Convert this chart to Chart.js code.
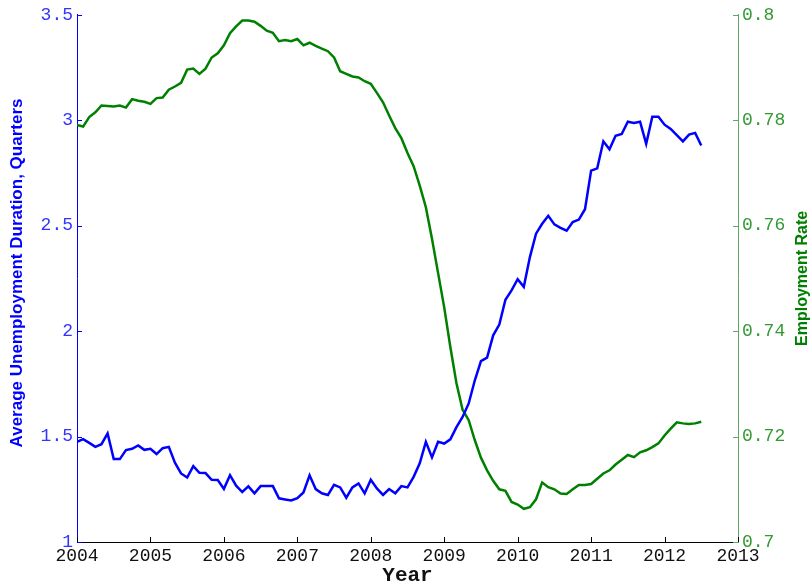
<!DOCTYPE html>
<html>
<head>
<meta charset="utf-8">
<script src="https://cdn.jsdelivr.net/npm/chart.js@4.4.1/dist/chart.umd.min.js"></script>
<style>
  html, body { margin: 0; padding: 0; background: #ffffff; }
  #wrap { width: 812px; height: 585px; }
</style>
</head>
<body>
<div id="wrap"><canvas id="c" width="812" height="585"></canvas></div>
<script>
// ---- Data (monthly, Jan 2004 .. Jul 2012) ----
const startYear = 2004;
const yearTicks = [2004, 2005, 2006, 2007, 2008, 2009, 2010, 2011, 2012, 2013];
const leftTicks = [1, 1.5, 2, 2.5, 3, 3.5];
const rightTicks = [0.7, 0.72, 0.74, 0.76, 0.78, 0.8];

const unemploymentDuration = [
  1.475, 1.488, 1.470, 1.451, 1.464, 1.515, 1.393, 1.393, 1.436, 1.442, 1.458, 1.437,
  1.442, 1.417, 1.445, 1.451, 1.376, 1.325, 1.306, 1.360, 1.328, 1.327, 1.295, 1.294,
  1.252, 1.317, 1.267, 1.237, 1.264, 1.231, 1.265, 1.265, 1.265, 1.207, 1.202, 1.197,
  1.208, 1.235, 1.316, 1.251, 1.231, 1.223, 1.271, 1.259, 1.210, 1.259, 1.278, 1.231,
  1.295, 1.254, 1.223, 1.251, 1.231, 1.265, 1.259, 1.309, 1.373, 1.475, 1.401, 1.475,
  1.467, 1.487, 1.545, 1.593, 1.657, 1.767, 1.858, 1.874, 1.980, 2.031, 2.149, 2.193,
  2.246, 2.210, 2.351, 2.462, 2.509, 2.547, 2.506, 2.490, 2.476, 2.517, 2.529, 2.578,
  2.761, 2.772, 2.900, 2.862, 2.926, 2.935, 2.993, 2.987, 2.993, 2.888, 3.017, 3.017,
  2.979, 2.959, 2.929, 2.900, 2.932, 2.940, 2.880
];

const employmentRate = [
  0.7791, 0.7788, 0.7806, 0.7815, 0.7828, 0.7827, 0.7826, 0.7828, 0.7824, 0.7840, 0.7837, 0.7835,
  0.7831, 0.7842, 0.7843, 0.7858, 0.7864, 0.7871, 0.7896, 0.7898, 0.7888, 0.7898, 0.7919, 0.7927,
  0.7942, 0.7965, 0.7978, 0.7989, 0.7989, 0.7987, 0.7979, 0.7970, 0.7966, 0.7950, 0.7952, 0.7950,
  0.7954, 0.7942, 0.7947, 0.7941, 0.7936, 0.7931, 0.7919, 0.7893, 0.7888, 0.7883, 0.7881, 0.7874,
  0.7869, 0.7852, 0.7834, 0.7809, 0.7785, 0.7766, 0.7738, 0.7713, 0.7676, 0.7635, 0.7575, 0.7510,
  0.7445, 0.7370, 0.7301, 0.7251, 0.7231, 0.7193, 0.7160, 0.7136, 0.7116, 0.7100, 0.7097, 0.7076,
  0.7071, 0.7063, 0.7066, 0.7081, 0.7113, 0.7104, 0.7100, 0.7092, 0.7091, 0.7100, 0.7108, 0.7108,
  0.7110, 0.7120, 0.7130, 0.7136, 0.7147, 0.7156, 0.7165, 0.7161, 0.7170, 0.7174, 0.7180, 0.7187,
  0.7202, 0.7215, 0.7227, 0.7225, 0.7224, 0.7225, 0.7228
];

const leftTitle = 'Average Unemployment Duration, Quarters';
const rightTitle = 'Employment Rate';
const xTitle = 'Year';

// ---- Styles ----
const BLUE = '#0000ff';
const GREEN = '#008000';
const BLUE_LABEL = '#3333ff';
const GREEN_LABEL = '#339933';
const GREEN_AXIS = '#5fa85f';
const MONO = '"Liberation Mono", "Courier New", monospace';
const SANS = '"Liberation Sans", Arial, sans-serif';

const toPoints = arr => arr.map((v, i) => ({ x: startYear + i / 12, y: v }));

const fmt = v => String(Math.round(v * 1000) / 1000);

const tickMarks = {
  id: 'tickMarks',
  afterDraw(chart) {
    const { ctx, chartArea: a, scales } = chart;
    const L = 5;
    ctx.save();
    ctx.lineWidth = 1;
    ctx.strokeStyle = BLUE;
    ctx.beginPath();
    leftTicks.forEach(v => {
      const y = Math.round(scales.y.getPixelForValue(v)) + 0.5;
      ctx.moveTo(a.left, y); ctx.lineTo(a.left + L, y);
    });
    ctx.stroke();
    ctx.strokeStyle = GREEN_AXIS;
    ctx.beginPath();
    rightTicks.forEach(v => {
      const y = Math.round(scales.y2.getPixelForValue(v)) + 0.5;
      ctx.moveTo(a.right - L, y); ctx.lineTo(a.right, y);
    });
    ctx.stroke();
    ctx.strokeStyle = '#000000';
    ctx.beginPath();
    yearTicks.forEach(v => {
      const x = Math.round(scales.x.getPixelForValue(v)) + 0.5;
      ctx.moveTo(x, a.bottom); ctx.lineTo(x, a.bottom - L);
    });
    ctx.stroke();
    ctx.textAlign = 'center';
    ctx.textBaseline = 'middle';
    // left axis title
    ctx.save();
    ctx.fillStyle = BLUE;
    ctx.font = 'bold 17px ' + SANS;
    ctx.translate(17, 273);
    ctx.rotate(-Math.PI / 2);
    ctx.fillText(leftTitle, 0, 0);
    ctx.restore();
    // right axis title, reading bottom-to-top
    ctx.fillStyle = GREEN;
    ctx.font = 'bold 16px ' + SANS;
    ctx.translate(803, (a.top + a.bottom) / 2);
    ctx.rotate(-Math.PI / 2);
    ctx.fillText(rightTitle, 0, 0);
    ctx.restore();
  }
};

new Chart(document.getElementById('c'), {
  type: 'line',
  data: {
    datasets: [
      {
        label: 'Average Unemployment Duration',
        data: toPoints(unemploymentDuration),
        borderColor: BLUE,
        borderWidth: 2.5,
        pointRadius: 0,
        tension: 0,
        fill: false,
        yAxisID: 'y'
      },
      {
        label: 'Employment Rate',
        data: toPoints(employmentRate),
        borderColor: GREEN,
        borderWidth: 2.5,
        pointRadius: 0,
        tension: 0,
        fill: false,
        yAxisID: 'y2'
      }
    ]
  },
  options: {
    responsive: false,
    animation: false,
    layout: { padding: { top: 14, left: 0, right: 0, bottom: 0 } },
    plugins: { legend: { display: false }, tooltip: { enabled: false } },
    scales: {
      x: {
        type: 'linear',
        min: 2004,
        max: 2013,
        afterBuildTicks: s => { s.ticks = yearTicks.map(v => ({ value: v })); },
        afterFit: s => { s.height = 43; },
        grid: { display: false, drawTicks: false },
        border: { display: true, color: '#000000', width: 1 },
        ticks: {
          color: '#111111',
          font: { family: MONO, size: 18 },
          padding: 3,
          maxRotation: 0,
          autoSkip: false,
          callback: v => String(v)
        },
        title: {
          display: true,
          text: xTitle,
          color: '#111111',
          font: { family: MONO, size: 21, weight: 'bold', lineHeight: 1 },
          padding: { top: 0, bottom: -1 }
        }
      },
      y: {
        type: 'linear',
        position: 'left',
        min: 1,
        max: 3.5,
        afterBuildTicks: s => { s.ticks = leftTicks.map(v => ({ value: v })); },
        afterFit: s => { s.width = 77; },
        grid: { display: false, drawTicks: false },
        border: { display: true, color: BLUE, width: 1 },
        ticks: {
          color: BLUE_LABEL,
          font: { family: MONO, size: 18 },
          padding: 4,
          callback: v => fmt(v)
        }
      },
      y2: {
        type: 'linear',
        position: 'right',
        min: 0.7,
        max: 0.8,
        afterBuildTicks: s => { s.ticks = rightTicks.map(v => ({ value: v })); },
        afterFit: s => { s.width = 74; },
        grid: { display: false, drawTicks: false },
        border: { display: true, color: GREEN_AXIS, width: 1 },
        ticks: {
          color: GREEN_LABEL,
          font: { family: MONO, size: 18 },
          padding: 4,
          callback: v => fmt(v)
        }
      }
    }
  },
  plugins: [tickMarks]
});
</script>
</body>
</html>
